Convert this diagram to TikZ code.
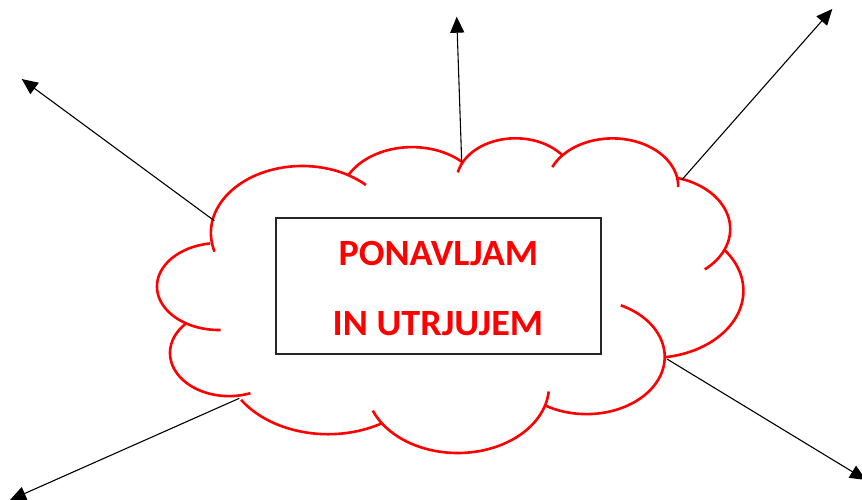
\documentclass[tikz,border=0pt]{standalone}
\usepackage{fontspec}
\setmainfont{Carlito}
\newfontfamily\cloudfont{Carlito Bold}[FakeStretch=1.03]
\usetikzlibrary{arrows.meta}
\tikzset{
  lobe/.style={draw=red, line width=2.6pt},
  ray/.style={draw=black, line width=1.1pt, -{Triangle[length=16pt,width=14pt]}},
  frame/.style={draw=black!85, line width=1.4pt, minimum width=325pt, minimum height=136pt, inner sep=0pt},
  wordtxt/.style={text=red, font=\cloudfont\fontsize{37}{42}\selectfont, anchor=base, inner sep=0pt}
}
% elliptical lobe: centre x, centre y, x radius, y radius, start, end (pixel space, y down)
\newcommand\cloudlobe[6]{%
  \draw[lobe] plot[domain=#5:#6, samples=90, variable=\x, smooth]
    ({#1+#3*cos(\x)},{#2+#4*sin(\x)});}
\begin{document}
\begin{tikzpicture}[x=1pt,y=-1pt]
\useasboundingbox (0,0) rectangle (862,499);
\begin{scope}
\clip (0,0) rectangle (862,499);
% cloud lobes
\cloudlobe{302.2}{232.9}{91.3}{66.9}{163.73}{314.26}
\cloudlobe{412.0}{200.0}{72.1}{52.9}{207.96}{314.58}
\cloudlobe{515.5}{181.6}{59.0}{43.3}{192.26}{322.65}
\cloudlobe{612.5}{186.4}{65.7}{48.0}{203.70}{360.82}
\cloudlobe{658.1}{229.0}{72.1}{53.0}{285.23}{409.65}
\cloudlobe{651.8}{290.8}{91.6}{67.1}{322.47}{441.86}
\cloudlobe{586.5}{356.8}{78.2}{57.3}{-64.03}{121.97}
\cloudlobe{457.7}{385.9}{91.3}{67.1}{4.74}{158.47}
\cloudlobe{328.1}{357.4}{104.4}{76.8}{58.99}{146.45}
\cloudlobe{229.0}{353.0}{59.0}{43.1}{68.7}{223.0}
\cloudlobe{219.0}{286.5}{62.0}{43.5}{88.4}{261.7}
% arrows
\coordinate (s1) at (214.3,220.7); \coordinate (e1) at (21.7,79);
\coordinate (s2) at (461.7,161.7); \coordinate (e2) at (456.7,16.7);
\coordinate (s3) at (681.7,180);   \coordinate (e3) at (832.3,9);
\coordinate (s4) at (239.3,398.3); \coordinate (e4) at (10,500);
\coordinate (s5) at (667,359);     \coordinate (e5) at (866,480);
\draw[ray] (s1) -- (e1);
\draw[ray] (s2) -- (e2);
\draw[ray] (s3) -- (e3);
\draw[ray] (s4) -- (e4);
\draw[ray] (s5) -- (e5);
\end{scope}
% box and text
\node[frame] (box) at (438.5,286) {};
\node[wordtxt] (t1) at (438.4,265) {PONAVLJAM};
\node[wordtxt] (t2) at (437.9,335) {IN UTRJUJEM};
\end{tikzpicture}
\end{document}
